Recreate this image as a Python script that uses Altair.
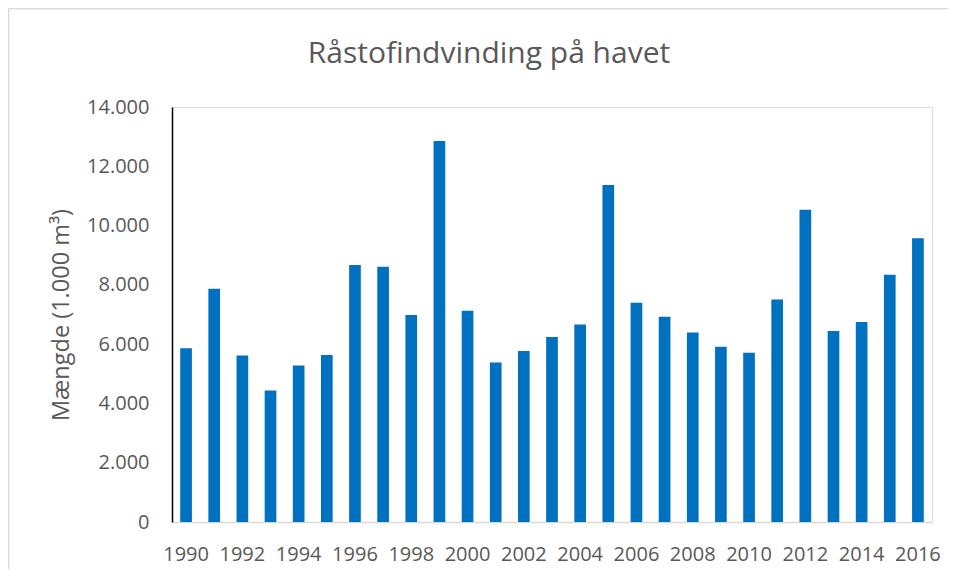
import altair as alt
import pandas as pd

years = list(range(1990, 2017))
values = [5860, 7870, 5620, 4440, 5280, 5630, 8670, 8610, 6980, 12850,
          7130, 5380, 5770, 6240, 6660, 11370, 7400, 6920, 6390, 5910,
          5710, 7510, 10530, 6440, 6750, 8340, 9570]
x_tick_years = list(range(1990, 2017, 2))
y_ticks = [0, 2000, 4000, 6000, 8000, 10000, 12000, 14000]

title_text = "Råstofindvinding på havet"
y_title = "Mængde (1.000 m³)"

df = pd.DataFrame({"year": years, "value": values})

FONT = "Open Sans"
GREY = "#595959"

bars = alt.Chart(df).mark_bar(color="#0070c0").encode(
    x=alt.X("year:O",
            scale=alt.Scale(paddingInner=0.585, paddingOuter=0.2925),
            axis=alt.Axis(values=x_tick_years, labelAngle=0, ticks=False,
                          domainColor="#d9d9d9", domainWidth=1.5,
                          labelFontSize=20, labelColor=GREY, labelFont=FONT,
                          labelPadding=22, title=None, grid=False)),
    y=alt.Y("value:Q",
            scale=alt.Scale(domain=[0, 14000], nice=False),
            axis=alt.Axis(values=y_ticks, ticks=False, grid=False,
                          domainColor="#000000", domainWidth=1.5,
                          labelFontSize=20, labelColor=GREY, labelFont=FONT,
                          labelPadding=23,
                          labelExpr="replace(format(datum.value, ','), ',', '.')",
                          title=y_title, titleFont=FONT, titleFontSize=23.5,
                          titleFontWeight="normal", titleColor=GREY,
                          titleAngle=-90, titleX=-111, titleY=207.5,
                          titleAlign="center", titleBaseline="middle")),
)

one = alt.Data(values=[{"t": title_text}])
border_left = alt.Chart(one).mark_rule(color="#d9d9d9", strokeWidth=1.5).encode(
    x=alt.value(-163.5), y=alt.value(-98.5), y2=alt.value(470),
)
border_top = alt.Chart(one).mark_rule(color="#d9d9d9", strokeWidth=1.5).encode(
    x=alt.value(-163.5), x2=alt.value(790), y=alt.value(-98.5),
)
title = alt.Chart(one).mark_text(
    font=FONT, fontSize=30, color=GREY, align="center", baseline="alphabetic"
).encode(
    text="t:N", x=alt.value(317), y=alt.value(-44),
)

chart = alt.layer(border_left, border_top, title, bars).properties(
    width=760, height=415,
    autosize=alt.AutoSizeParams(type="none"),
    padding={"left": 164, "top": 99, "right": 16, "bottom": 47},
).configure_view(strokeWidth=0, strokeOpacity=0).configure(background="white")

chart.save("out.html", embed_options={"renderer": "svg", "actions": False})
